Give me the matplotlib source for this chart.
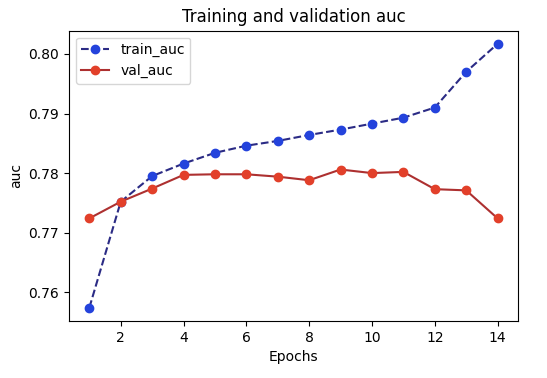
import matplotlib
matplotlib.use("Agg")
import matplotlib.pyplot as plt

epochs = list(range(1, 15))
train_auc = [0.7574, 0.7752, 0.7795, 0.7816, 0.7834, 0.7846, 0.7854,
             0.7864, 0.7873, 0.7883, 0.7893, 0.7910, 0.7970, 0.8017]
val_auc = [0.7724, 0.7752, 0.7774, 0.7797, 0.7798, 0.7798, 0.7794,
           0.7788, 0.7806, 0.7800, 0.7802, 0.7773, 0.7771, 0.7724]

fig = plt.figure(figsize=(5.47, 3.78), dpi=100)
ax = fig.add_axes([0.126, 0.151, 0.821, 0.768])

ax.plot(epochs, train_auc, '--', color='#2b2b85', marker='o', markersize=6,
        markerfacecolor='#2443dc', markeredgecolor='#2443dc', label='train_auc')
ax.plot(epochs, val_auc, '-', color='#ad3030', marker='o', markersize=6,
        markerfacecolor='#e2402a', markeredgecolor='#e2402a', label='val_auc')

ax.set_xticks([2, 4, 6, 8, 10, 12, 14])
ax.set_yticks([0.76, 0.77, 0.78, 0.79, 0.80])
ax.set_title('Training and validation auc')
ax.set_xlabel('Epochs')
ax.set_ylabel('auc')
ax.legend(loc='upper left')

fig.savefig('out.png', dpi=100)
